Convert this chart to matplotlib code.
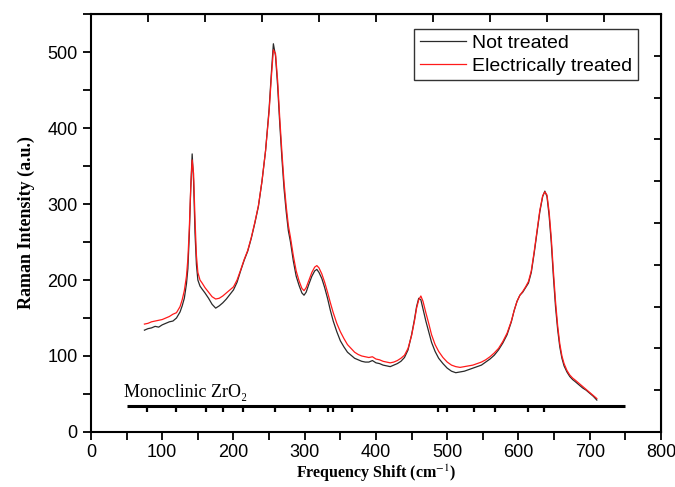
import matplotlib
matplotlib.use("Agg")
import matplotlib.pyplot as plt
from matplotlib.ticker import MultipleLocator

# Raman shift grid (cm-1), shared by both spectra
shift = [75, 80, 85, 90, 95, 100, 105, 110, 115, 120, 125, 128, 131, 134, 136, 138, 140,
         142, 144, 146, 148, 150, 153, 156, 160, 165, 170, 175, 180, 185, 190, 195, 200,
         205, 210, 215, 220, 225, 230, 235, 240, 245, 250, 253, 256, 259, 262, 265, 268,
         271, 274, 277, 280, 284, 288, 292, 296, 299, 302, 306, 310, 314, 317, 320, 324,
         328, 332, 336, 340, 345, 350, 355, 360, 365, 370, 375, 380, 385, 390, 395, 400,
         405, 410, 415, 420, 425, 430, 435, 440, 445, 450, 454, 457, 460, 463, 466, 470,
         474, 478, 483, 488, 494, 500, 506, 512, 518, 524, 530, 536, 542, 548, 554, 560,
         566, 572, 578, 584, 590, 594, 598, 602, 606, 610, 614, 618, 622, 626, 630, 634,
         637, 640, 643, 646, 649, 652, 655, 658, 661, 664, 668, 672, 676, 680, 685, 690,
         695, 700, 705, 710]

not_treated = [134, 136, 137, 139, 138, 141, 143, 145, 146, 150, 158, 166, 176, 195, 215, 260, 320,
               366, 330, 262, 220, 200, 192, 188, 183, 176, 168, 163, 166, 170, 175, 181, 187,
               197, 212, 226, 238, 255, 275, 297, 330, 370, 425, 470, 511, 495, 455, 405, 360,
               320, 290, 265, 250, 225, 205, 193, 183, 180, 184, 195, 205, 212, 214, 210, 202,
               190, 176, 160, 146, 132, 120, 112, 105, 101, 97, 95, 93, 92, 92, 94, 91,
               90, 88, 87, 86, 88, 90, 93, 98, 108, 128, 148, 165, 176, 174, 162, 146,
               132, 118, 106, 97, 90, 84, 80, 78, 79, 80, 82, 84, 86, 88, 92, 96,
               101, 108, 117, 128, 145, 160, 172, 180, 184, 190, 196, 210, 235, 262, 290, 310,
               317, 310, 285, 250, 205, 165, 135, 112, 97, 87, 79, 73, 69, 66, 62, 58,
               55, 51, 47, 42]

treated = [142, 143, 145, 146, 147, 148, 150, 152, 155, 157, 165, 174, 186, 205, 228, 268, 322,
           358, 340, 280, 232, 210, 200, 196, 190, 184, 178, 175, 176, 179, 183, 187, 191,
           200, 213, 227, 239, 256, 276, 298, 330, 370, 422, 465, 503, 498, 462, 412, 368,
           328, 297, 272, 256, 232, 212, 199, 189, 186, 190, 200, 210, 217, 219, 216, 208,
           197, 184, 170, 157, 143, 132, 123, 115, 110, 105, 102, 100, 99, 98, 99, 96,
           95, 93, 92, 91, 92, 94, 97, 101, 110, 127, 146, 163, 174, 179, 172, 157,
           143, 128, 115, 106, 98, 92, 88, 86, 85, 86, 87, 88, 90, 92, 95, 99,
           104, 110, 119, 130, 146, 160, 172, 180, 185, 191, 198, 212, 237, 265, 292, 311,
           316, 312, 290, 256, 212, 172, 140, 116, 100, 90, 81, 75, 71, 68, 64, 60,
           56, 52, 48, 44]

# reference band positions for monoclinic ZrO2 (cm-1)
mono_bands = [79, 119, 162, 185, 213, 258, 307, 332, 339, 367, 487, 500, 538, 567, 614, 636]
mono_level = 34
mono_span = (50, 750)

SANS = ["Liberation Sans", "DejaVu Sans"]
SERIF = ["Liberation Serif", "DejaVu Serif"]
plt.rcParams["font.family"] = SANS
plt.rcParams["mathtext.fontset"] = "stix"

fig = plt.figure(figsize=(6.75, 4.87), dpi=100)
ax = fig.add_axes([0.1348, 0.113, 0.8444, 0.858])

ax.plot(shift, not_treated, color="#2a2a2a", lw=0.9, label="Not treated")
ax.plot(shift, treated, color="#ff1a1a", lw=0.9, label="Electrically treated")

# reference stick bar
ax.plot(mono_span, [mono_level, mono_level], color="black", lw=2.2, solid_capstyle="butt")
ax.vlines(mono_bands, mono_level - 8, mono_level, color="black", lw=1.6)
ax.text(46, 46, "Monoclinic ZrO\u2082", family=SERIF, fontsize=13, ha="left", va="baseline")

ax.set_xlim(0, 800)
ax.set_ylim(0, 550)
ax.xaxis.set_major_locator(MultipleLocator(100))
ax.xaxis.set_minor_locator(MultipleLocator(50))
ax.yaxis.set_major_locator(MultipleLocator(100))
ax.yaxis.set_minor_locator(MultipleLocator(50))
ax.tick_params(which="both", direction="out", length=6, width=1.3, labelsize=13,
               top=False, right=False)
ax.tick_params(axis="x", pad=3)

for s in ax.spines.values():
    s.set_linewidth(1.5)

# top / right axes carry their own inward ticks and no labels
top = ax.secondary_xaxis("top")
top.set_xticks(range(80, 800, 80))
top.tick_params(direction="in", length=6, width=1.3, labeltop=False)
right = ax.secondary_yaxis("right")
right.set_yticks(range(55, 550, 55))
right.tick_params(direction="in", length=5, width=1.3, labelright=False)

ax.set_xlabel(r"Frequency Shift (cm$^{-1}$)", family=SERIF, fontweight="bold", fontsize=11.5,
              labelpad=1)
ax.set_ylabel("Raman Intensity (a.u.)", family=SERIF, fontweight="bold", fontsize=13,
              labelpad=9)

leg = ax.legend(loc="upper right", bbox_to_anchor=(0.96, 0.965), fontsize=14,
                frameon=True, fancybox=False, edgecolor="black", handlelength=2.4,
                handletextpad=0.3, borderpad=0.3, labelspacing=0.25, borderaxespad=0.0)
leg.get_frame().set_linewidth(1.0)

fig.savefig("out.png", dpi=100)
